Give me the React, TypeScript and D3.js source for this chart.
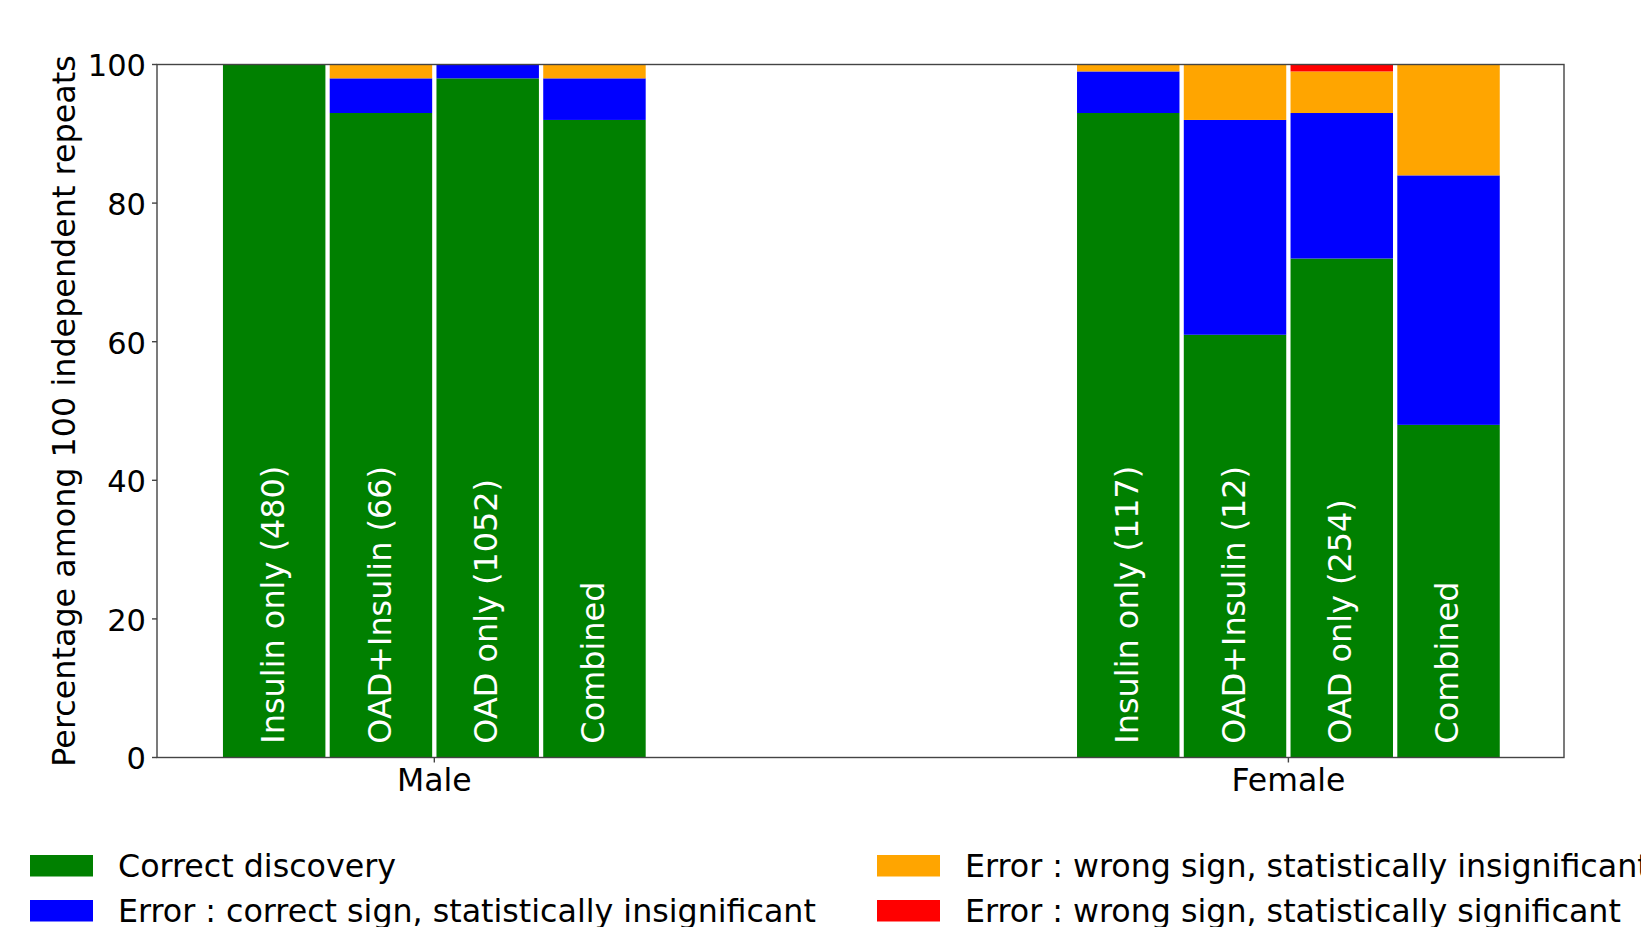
import React from "react";
import * as d3 from "d3";

// ---- data ----
const groups = ["Male", "Female"];
const barLabels = [
  ["Insulin only (480)", "OAD+Insulin (66)", "OAD only (1052)", "Combined"],
  ["Insulin only (117)", "OAD+Insulin (12)", "OAD only (254)", "Combined"],
];
// order: Male x4, Female x4
const correctDiscovery = [100, 93, 98, 92, 93, 61, 72, 48];
const correctSignInsig = [0, 5, 2, 6, 6, 31, 21, 36];
const wrongSignInsig = [0, 2, 0, 2, 1, 8, 6, 16];
const wrongSignSig = [0, 0, 0, 0, 0, 0, 1, 0];
const seriesNames = [
  "Correct discovery",
  "Error : correct sign, statistically insignificant",
  "Error : wrong sign, statistically insignificant",
  "Error : wrong sign, statistically significant",
];
const seriesColors = ["#008000", "#0000ff", "#ffa500", "#ff0000"];
const yTicks = [0, 20, 40, 60, 80, 100];
const yLabel = "Percentage among 100 independent repeats";

const W = 1641;
const H = 927;
const FONT = "'DejaVu Sans', Verdana, sans-serif";

export default function App() {
  const left = 157, right = 1564, top = 64.5, bottom = 757.5;
  const x = d3.scaleLinear().domain([-0.3247, 1.3227]).range([left, right]);
  const y = d3.scaleLinear().domain([0, 100]).range([bottom, top]);
  const barW = 0.125;
  const gapPx = 4.3;

  const rows = correctDiscovery.map((_, k) => ({
    k,
    g: Math.floor(k / 4),
    i: k % 4,
    vals: [correctDiscovery[k], correctSignInsig[k], wrongSignInsig[k], wrongSignSig[k]],
  }));
  const stacked = d3
    .stack<any>()
    .keys(["0", "1", "2", "3"])
    .value((d: any, key: string) => d.vals[+key])(rows);

  return (
    <svg
      width={W}
      height={H}
      style={{ position: "absolute", left: 0, top: 0, background: "#fff" }}
      fontFamily={FONT}
    >
      {/* bars */}
      {stacked.map((layer, s) =>
        layer.map((seg, j) => {
          const r = rows[j];
          const c = r.g + (r.i - 1.5) * barW;
          const x0 = x(c - barW / 2) + gapPx / 2;
          const x1 = x(c + barW / 2) - gapPx / 2;
          const y0 = y(seg[0]);
          const y1 = y(seg[1]);
          if (y0 - y1 <= 0) return null;
          return (
            <rect
              key={`${s}-${j}`}
              x={x0}
              y={y1}
              width={x1 - x0}
              height={y0 - y1}
              fill={seriesColors[s]}
            />
          );
        })
      )}
      {/* bar labels */}
      {rows.map((r) => {
        const c = x(r.g + (r.i - 1.5) * barW);
        const yy = y(2);
        return (
          <text
            key={`bl-${r.k}`}
            transform={`translate(${c},${yy}) rotate(-90)`}
            dy="0.3em"
            fill="#fff"
            fontSize={31.9}
            textAnchor="start"
          >
            {barLabels[r.g][r.i]}
          </text>
        );
      })}
      {/* frame */}
      <rect
        x={left}
        y={top}
        width={right - left}
        height={bottom - top}
        fill="none"
        stroke="#444"
        strokeWidth={1.4}
      />
      {/* y ticks */}
      {yTicks.map((t) => (
        <g key={`yt-${t}`}>
          <line x1={left - 5} x2={left} y1={y(t)} y2={y(t)} stroke="#444" strokeWidth={1.4} />
          <text x={left - 11} y={y(t)} dy="0.39em" textAnchor="end" fontSize={30.5} fill="#000">
            {t}
          </text>
        </g>
      ))}
      {/* x ticks */}
      {groups.map((gName, g) => (
        <g key={`xt-${g}`}>
          <line x1={x(g)} x2={x(g)} y1={bottom} y2={bottom + 5} stroke="#444" strokeWidth={1.4} />
          <text x={x(g)} y={791} textAnchor="middle" fontSize={31.5} fill="#000">
            {gName}
          </text>
        </g>
      ))}
      {/* y label */}
      <text
        transform={`translate(75,${(top + bottom) / 2}) rotate(-90)`}
        textAnchor="middle"
        fontSize={31.8}
        fill="#000"
      >
        {yLabel}
      </text>
      {/* legend */}
      {seriesNames.map((name, s) => {
        const col = s === 0 || s === 1 ? 0 : 1;
        const row = s === 0 || s === 2 ? 0 : 1;
        const sx = col === 0 ? 30 : 877;
        const sy = row === 0 ? 855 : 900;
        return (
          <g key={`lg-${s}`}>
            <rect x={sx} y={sy} width={63} height={21.5} fill={seriesColors[s]} />
            <text x={sx + 88} y={sy + 22} fontSize={31.7} fill="#000">
              {name}
            </text>
          </g>
        );
      })}
    </svg>
  );
}
